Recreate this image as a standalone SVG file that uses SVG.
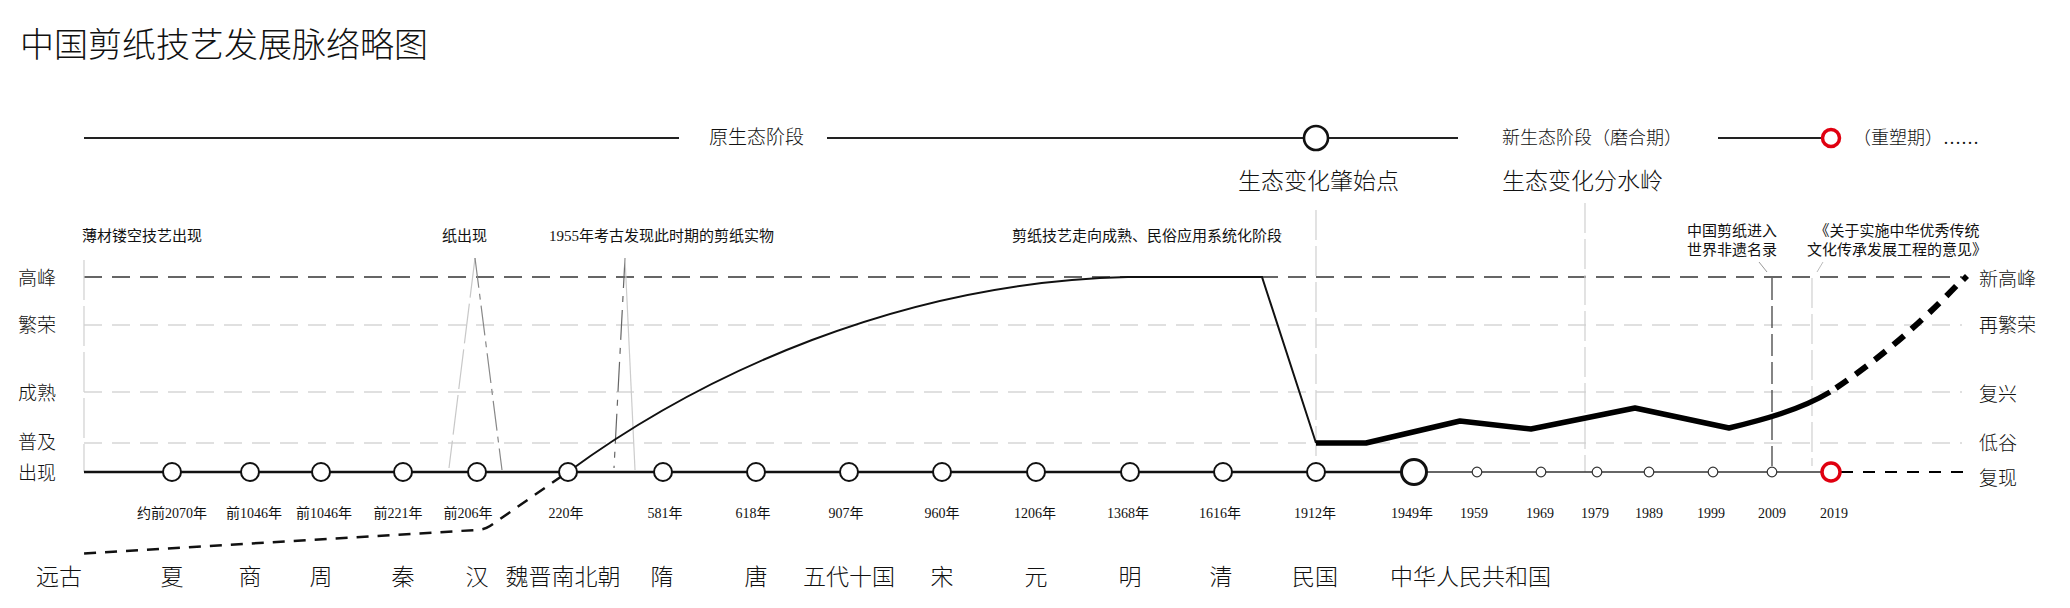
<svg xmlns="http://www.w3.org/2000/svg" width="2070" height="608" viewBox="0 0 2070 608">
<defs>
<style>
text{font-family:'Liberation Serif','Noto Sans CJK SC',serif;fill:#111}
.title{font-family:'Noto Sans CJK SC',sans-serif;font-weight:300;font-size:34px}
.big{font-family:'Noto Sans CJK SC',sans-serif;font-weight:300;font-size:23px}
.stage{font-size:19px;font-weight:300}
.stage2{font-size:18px;font-weight:300}
.ann{font-size:15px}
.ylab{font-size:19px;font-weight:300}
.yr{font-size:14px;text-anchor:middle}
.yr2{font-size:14px;text-anchor:middle}
.dyn{font-size:23px;text-anchor:middle;font-weight:300}
.grid{stroke:#d6d6d6;stroke-width:1.5;stroke-dasharray:18 10;fill:none}
.peak{stroke:#333;stroke-width:1.5;stroke-dasharray:18 10;fill:none}
.vlight{stroke:#d0d0d0;stroke-width:1.2;stroke-dasharray:30 6;fill:none}
.node{fill:#fff;stroke:#111;stroke-width:2}
.small{fill:#fff;stroke:#333;stroke-width:1.2}
.red{fill:#fff;stroke:#e00010;stroke-width:3.5}
</style>
</defs>
<rect width="2070" height="608" fill="#fff"/>
<text class="title" x="20" y="57">中国剪纸技艺发展脉络略图</text>

<!-- stage bar -->
<g id="stage-bar">
<line x1="84" y1="138" x2="679" y2="138" stroke="#222" stroke-width="2"/>
<text class="stage" x="709" y="144">原生态阶段</text>
<line x1="827" y1="138" x2="1458" y2="138" stroke="#222" stroke-width="2"/>
<text class="stage2" x="1502" y="144">新生态阶段（磨合期）</text>
<line x1="1718" y1="138" x2="1823" y2="138" stroke="#222" stroke-width="2"/>
<text class="stage2" x="1853" y="144">（重塑期）……</text>
</g>
<g id="node-origin-change"><circle cx="1316" cy="138" r="12" fill="#fff" stroke="#111" stroke-width="2.6"/></g>
<g id="node-reshape"><circle cx="1831" cy="138" r="8.5" class="red" stroke-width="3"/></g>
<text class="big" x="1238" y="189">生态变化肇始点</text>
<text class="big" x="1502" y="189">生态变化分水岭</text>

<!-- grid -->
<g id="grid">
<line class="peak" x1="84" y1="277" x2="1962" y2="277"/>
<line class="grid" x1="84" y1="325" x2="1962" y2="325"/>
<line class="grid" x1="84" y1="392" x2="1962" y2="392"/>
<line class="grid" x1="84" y1="443" x2="1962" y2="443"/>
<line x1="84" y1="260" x2="84" y2="472" stroke="#d0d0d0" stroke-width="1.2" stroke-dasharray="40 6"/>
<line class="vlight" x1="1316" y1="210" x2="1316" y2="472"/>
<line class="vlight" x1="1585" y1="203" x2="1585" y2="472"/>
<line x1="1772" y1="278" x2="1772" y2="466" stroke="#444" stroke-width="1.3" stroke-dasharray="22 6"/>
<line class="vlight" x1="1812" y1="278" x2="1812" y2="466"/>
</g>

<!-- y labels -->
<g id="y-labels-left">
<text class="ylab" x="18" y="285">高峰</text>
<text class="ylab" x="18" y="332">繁荣</text>
<text class="ylab" x="18" y="400">成熟</text>
<text class="ylab" x="18" y="449">普及</text>
<text class="ylab" x="18" y="480">出现</text>
</g>
<g id="y-labels-right">
<text class="ylab" x="1979" y="286">新高峰</text>
<text class="ylab" x="1979" y="332">再繁荣</text>
<text class="ylab" x="1979" y="401">复兴</text>
<text class="ylab" x="1979" y="450">低谷</text>
<text class="ylab" x="1979" y="485">复现</text>
</g>

<!-- annotations -->
<g id="annotations">
<text class="ann" x="82" y="241">薄材镂空技艺出现</text>
<text class="ann" x="442" y="241">纸出现</text>
<text class="ann" x="549" y="241">1955年考古发现此时期的剪纸实物</text>
<text class="ann" x="1012" y="241">剪纸技艺走向成熟、民俗应用系统化阶段</text>
<text class="ann" x="1732" y="236" text-anchor="middle">中国剪纸进入</text>
<text class="ann" x="1732" y="255" text-anchor="middle">世界非遗名录</text>
<text class="ann" x="1897" y="236" text-anchor="middle">《关于实施中华优秀传统</text>
<text class="ann" x="1897" y="255" text-anchor="middle">文化传承发展工程的意见》</text>
</g>

<!-- connectors -->
<g id="connectors" fill="none">
<line x1="475" y1="258" x2="449" y2="468" stroke="#c8c8c8" stroke-width="1.2" stroke-dasharray="40 6"/>
<line x1="475" y1="258" x2="502" y2="470" stroke="#888" stroke-width="1.2" stroke-dasharray="30 6 6 6"/>
<line x1="625" y1="258" x2="614" y2="468" stroke="#666" stroke-width="1.2" stroke-dasharray="30 8 6 8"/>
<line x1="625" y1="258" x2="635" y2="470" stroke="#ccc" stroke-width="1.2"/>
<line x1="1759" y1="262" x2="1767" y2="272" stroke="#999" stroke-width="1"/>
<line x1="1823" y1="262" x2="1817" y2="272" stroke="#bbb" stroke-width="1"/>
<!-- trend -->
<path d="M568,472 C700,375 900,282 1128,277 L1262,277 L1316,443" stroke="#111" stroke-width="2"/>
<path d="M1316,443 L1366,443 L1460,421 L1531,429 L1635,408 L1729,428 C1762,420 1800,410 1830,392" stroke="#000" stroke-width="5.5" stroke-linejoin="round"/>
<path d="M1836,388 Q1900,345 1960,282" stroke="#000" stroke-width="6" stroke-dasharray="14 10"/>
<path d="M1965,274 L1969,278 L1965,282 L1961,278 Z" fill="#000"/>
<path d="M562,476 L490,526 Q484,530 476,530 L76,554" stroke="#111" stroke-width="2.5" stroke-dasharray="12 9"/>
<!-- axis -->
<line x1="84" y1="472" x2="1414" y2="472" stroke="#111" stroke-width="2.3"/>
<line x1="1414" y1="472" x2="1822" y2="472" stroke="#333" stroke-width="1.5"/>
<line x1="1841" y1="472" x2="1965" y2="472" stroke="#000" stroke-width="2" stroke-dasharray="12 10"/>
</g>

<!-- nodes -->
<g id="n-xia"><circle class="node" cx="172" cy="472" r="9"/></g>
<g id="n-shang"><circle class="node" cx="250" cy="472" r="9"/></g>
<g id="n-zhou"><circle class="node" cx="321" cy="472" r="9"/></g>
<g id="n-qin"><circle class="node" cx="403" cy="472" r="9"/></g>
<g id="n-han"><circle class="node" cx="477" cy="472" r="9"/></g>
<g id="n-weijin"><circle class="node" cx="568" cy="472" r="9"/></g>
<g id="n-sui"><circle class="node" cx="663" cy="472" r="9"/></g>
<g id="n-tang"><circle class="node" cx="756" cy="472" r="9"/></g>
<g id="n-wudai"><circle class="node" cx="849" cy="472" r="9"/></g>
<g id="n-song"><circle class="node" cx="942" cy="472" r="9"/></g>
<g id="n-yuan"><circle class="node" cx="1036" cy="472" r="9"/></g>
<g id="n-ming"><circle class="node" cx="1130" cy="472" r="9"/></g>
<g id="n-qing"><circle class="node" cx="1223" cy="472" r="9"/></g>
<g id="n-minguo"><circle class="node" cx="1316" cy="472" r="9"/></g>
<g id="n-1949"><circle cx="1414" cy="472" r="12.5" fill="#fff" stroke="#111" stroke-width="3"/></g>
<g id="n-1959"><circle class="small" cx="1477" cy="472" r="4.8"/></g>
<g id="n-1969"><circle class="small" cx="1541" cy="472" r="4.8"/></g>
<g id="n-1979"><circle class="small" cx="1597" cy="472" r="4.8"/></g>
<g id="n-1989"><circle class="small" cx="1649" cy="472" r="4.8"/></g>
<g id="n-1999"><circle class="small" cx="1713" cy="472" r="4.8"/></g>
<g id="n-2009"><circle class="small" cx="1772" cy="472" r="4.8"/></g>
<g id="n-2019"><circle class="red" cx="1831" cy="472" r="9"/></g>

<!-- years -->
<g id="years">
<text class="yr" x="172" y="518">约前2070年</text>
<text class="yr" x="254" y="518">前1046年</text>
<text class="yr" x="324" y="518">前1046年</text>
<text class="yr" x="398" y="518">前221年</text>
<text class="yr" x="468" y="518">前206年</text>
<text class="yr" x="566" y="518">220年</text>
<text class="yr" x="665" y="518">581年</text>
<text class="yr" x="753" y="518">618年</text>
<text class="yr" x="846" y="518">907年</text>
<text class="yr" x="942" y="518">960年</text>
<text class="yr" x="1035" y="518">1206年</text>
<text class="yr" x="1128" y="518">1368年</text>
<text class="yr" x="1220" y="518">1616年</text>
<text class="yr" x="1315" y="518">1912年</text>
<text class="yr" x="1412" y="518">1949年</text>
<text class="yr2" x="1474" y="518">1959</text>
<text class="yr2" x="1540" y="518">1969</text>
<text class="yr2" x="1595" y="518">1979</text>
<text class="yr2" x="1649" y="518">1989</text>
<text class="yr2" x="1711" y="518">1999</text>
<text class="yr2" x="1772" y="518">2009</text>
<text class="yr2" x="1834" y="518">2019</text>
</g>

<!-- dynasties -->
<g id="dynasties">
<text class="dyn" x="59" y="585">远古</text>
<text class="dyn" x="172" y="585">夏</text>
<text class="dyn" x="250" y="585">商</text>
<text class="dyn" x="321" y="585">周</text>
<text class="dyn" x="403" y="585">秦</text>
<text class="dyn" x="477" y="585">汉</text>
<text class="dyn" x="563" y="585">魏晋南北朝</text>
<text class="dyn" x="662" y="585">隋</text>
<text class="dyn" x="756" y="585">唐</text>
<text class="dyn" x="849" y="585">五代十国</text>
<text class="dyn" x="942" y="585">宋</text>
<text class="dyn" x="1036" y="585">元</text>
<text class="dyn" x="1130" y="585">明</text>
<text class="dyn" x="1221" y="585">清</text>
<text class="dyn" x="1315" y="585">民国</text>
<text x="1390" y="585" style="font-size:23px;font-weight:300">中华人民共和国</text>
</g>
</svg>
